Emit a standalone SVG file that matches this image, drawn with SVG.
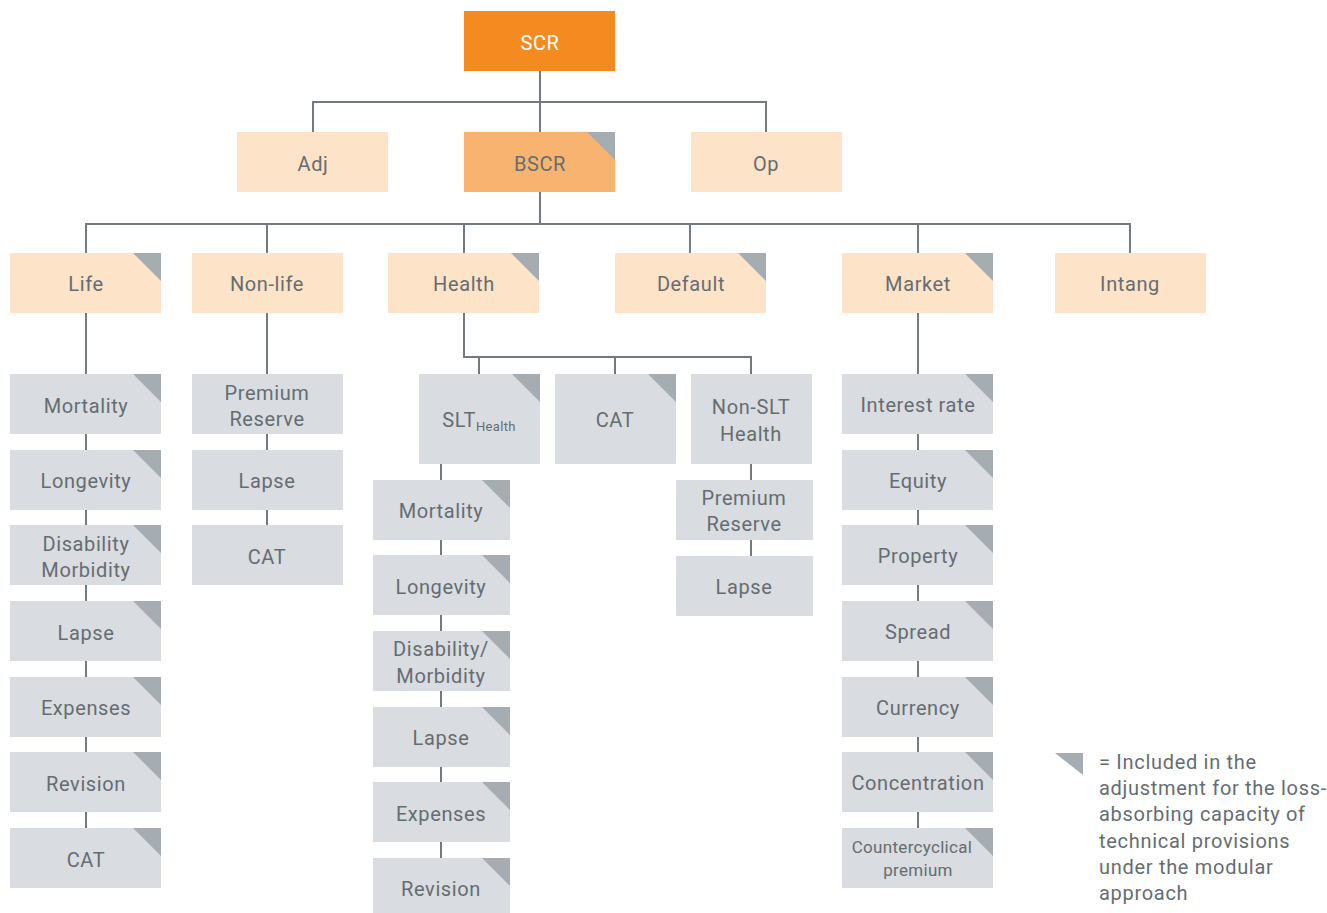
<svg xmlns="http://www.w3.org/2000/svg" width="1327" height="913" viewBox="0 0 1327 913">
<style>
.b{fill:#d9dce0}.l{fill:#fde3c8}.m{fill:#f9b371}.s{fill:#f58b20}
.c{fill:#a5acb2}
text{font-family:Roboto,"Liberation Sans",sans-serif;font-size:20px;fill:#656d72;text-anchor:middle;letter-spacing:0.6px}
.w{fill:#ffffff}
.sm{font-size:17px;letter-spacing:0.3px}
.lg{text-anchor:start;letter-spacing:0.7px}
#conn line,#conn path{stroke:#737b80;stroke-width:2;fill:none}
</style>
<defs>
<polygon id="tri" points="-28,0 0,0 0,28" class="c"/>
</defs>
<g id="conn">
<path d="M540 71V132M313 132V102H766V132M540 192V224M86 253V224H1130V253M267 224V253M464 224V253M690 224V253M918 224V253"/>
<line x1="86" y1="313" x2="86" y2="828"/>
<line x1="267" y1="313" x2="267" y2="525"/>
<path d="M464 313V357H751V374M479 357V374M615 357V374"/>
<line x1="441" y1="464" x2="441" y2="858"/>
<line x1="751" y1="464" x2="751" y2="556"/>
<line x1="918" y1="313" x2="918" y2="828"/>
</g>
<g id="scr"><rect class="s" x="464" y="11" width="151" height="60"/><text class="w" x="540" y="50">SCR</text></g>
<g id="adj"><rect class="l" x="237" y="132" width="151" height="60"/><text x="313" y="171">Adj</text></g>
<g id="bscr"><rect class="m" x="464" y="132" width="151" height="60"/><use href="#tri" x="615" y="132"/><text x="540" y="171">BSCR</text></g>
<g id="op"><rect class="l" x="691" y="132" width="151" height="60"/><text x="766" y="171">Op</text></g>

<g id="life"><rect class="l" x="10" y="253" width="151" height="60"/><use href="#tri" x="161" y="253"/><text x="86" y="291">Life</text></g>
<g id="nonlife"><rect class="l" x="192" y="253" width="151" height="60"/><text x="267" y="291">Non-life</text></g>
<g id="health"><rect class="l" x="388" y="253" width="151" height="60"/><use href="#tri" x="539" y="253"/><text x="464" y="291">Health</text></g>
<g id="default"><rect class="l" x="615" y="253" width="151" height="60"/><use href="#tri" x="766" y="253"/><text x="691" y="291">Default</text></g>
<g id="market"><rect class="l" x="842" y="253" width="151" height="60"/><use href="#tri" x="993" y="253"/><text x="918" y="291">Market</text></g>
<g id="intang"><rect class="l" x="1055" y="253" width="151" height="60"/><text x="1130" y="291">Intang</text></g>

<g id="life-mort"><rect class="b" x="10" y="374" width="151" height="60"/><use href="#tri" x="161" y="374"/><text x="86" y="413">Mortality</text></g>
<g id="life-long"><rect class="b" x="10" y="450" width="151" height="60"/><use href="#tri" x="161" y="450"/><text x="86" y="488">Longevity</text></g>
<g id="life-dis"><rect class="b" x="10" y="525" width="151" height="60"/><use href="#tri" x="161" y="525"/><text x="86" y="551">Disability</text><text x="86" y="577">Morbidity</text></g>
<g id="life-lapse"><rect class="b" x="10" y="601" width="151" height="60"/><use href="#tri" x="161" y="601"/><text x="86" y="640">Lapse</text></g>
<g id="life-exp"><rect class="b" x="10" y="677" width="151" height="60"/><use href="#tri" x="161" y="677"/><text x="86" y="715">Expenses</text></g>
<g id="life-rev"><rect class="b" x="10" y="752" width="151" height="60"/><use href="#tri" x="161" y="752"/><text x="86" y="791">Revision</text></g>
<g id="life-cat"><rect class="b" x="10" y="828" width="151" height="60"/><use href="#tri" x="161" y="828"/><text x="86" y="867">CAT</text></g>

<g id="nl-prem"><rect class="b" x="192" y="374" width="151" height="60"/><text x="267" y="400">Premium</text><text x="267" y="426">Reserve</text></g>
<g id="nl-lapse"><rect class="b" x="192" y="450" width="151" height="60"/><text x="267" y="488">Lapse</text></g>
<g id="nl-cat"><rect class="b" x="192" y="525" width="151" height="60"/><text x="267" y="564">CAT</text></g>

<g id="slt"><rect class="b" x="419" y="374" width="121" height="90"/><use href="#tri" x="540" y="374"/><text x="479" y="427">SLT<tspan font-size="13" dy="4" letter-spacing="0.3">Health</tspan></text></g>
<g id="hcat"><rect class="b" x="555" y="374" width="121" height="90"/><use href="#tri" x="676" y="374"/><text x="615" y="427">CAT</text></g>
<g id="nonslt"><rect class="b" x="691" y="374" width="121" height="90"/><text x="751" y="414">Non-SLT</text><text x="751" y="441">Health</text></g>

<g id="slt-mort"><rect class="b" x="373" y="480" width="137" height="60"/><use href="#tri" x="510" y="480"/><text x="441" y="518">Mortality</text></g>
<g id="slt-long"><rect class="b" x="373" y="555" width="137" height="60"/><use href="#tri" x="510" y="555"/><text x="441" y="594">Longevity</text></g>
<g id="slt-dis"><rect class="b" x="373" y="631" width="137" height="60"/><use href="#tri" x="510" y="631"/><text x="441" y="656">Disability/</text><text x="441" y="683">Morbidity</text></g>
<g id="slt-lapse"><rect class="b" x="373" y="707" width="137" height="60"/><use href="#tri" x="510" y="707"/><text x="441" y="745">Lapse</text></g>
<g id="slt-exp"><rect class="b" x="373" y="782" width="137" height="60"/><use href="#tri" x="510" y="782"/><text x="441" y="821">Expenses</text></g>
<g id="slt-rev"><rect class="b" x="373" y="858" width="137" height="60"/><use href="#tri" x="510" y="858"/><text x="441" y="896">Revision</text></g>

<g id="ns-prem"><rect class="b" x="676" y="480" width="137" height="60"/><text x="744" y="505">Premium</text><text x="744" y="531">Reserve</text></g>
<g id="ns-lapse"><rect class="b" x="676" y="556" width="137" height="60"/><text x="744" y="594">Lapse</text></g>

<g id="m-int"><rect class="b" x="842" y="374" width="151" height="60"/><use href="#tri" x="993" y="374"/><text x="918" y="412">Interest rate</text></g>
<g id="m-eq"><rect class="b" x="842" y="450" width="151" height="60"/><use href="#tri" x="993" y="450"/><text x="918" y="488">Equity</text></g>
<g id="m-prop"><rect class="b" x="842" y="525" width="151" height="60"/><use href="#tri" x="993" y="525"/><text x="918" y="563">Property</text></g>
<g id="m-spread"><rect class="b" x="842" y="601" width="151" height="60"/><use href="#tri" x="993" y="601"/><text x="918" y="639">Spread</text></g>
<g id="m-cur"><rect class="b" x="842" y="677" width="151" height="60"/><use href="#tri" x="993" y="677"/><text x="918" y="715">Currency</text></g>
<g id="m-conc"><rect class="b" x="842" y="752" width="151" height="60"/><use href="#tri" x="993" y="752"/><text x="918" y="790">Concentration</text></g>
<g id="m-cc"><rect class="b" x="842" y="828" width="151" height="60"/><use href="#tri" x="993" y="828"/><text class="sm" x="912" y="853">Countercyclical</text><text class="sm" x="918" y="876">premium</text></g>

<g id="legend">
<polygon class="c" points="1055,753 1083,753 1083,775"/>
<text class="lg" x="1099" y="769">= Included in the</text>
<text class="lg" x="1099" y="795">adjustment for the loss-</text>
<text class="lg" x="1099" y="821">absorbing capacity of</text>
<text class="lg" x="1099" y="848">technical provisions</text>
<text class="lg" x="1099" y="874">under the modular</text>
<text class="lg" x="1099" y="900">approach</text>
</g>
</svg>
